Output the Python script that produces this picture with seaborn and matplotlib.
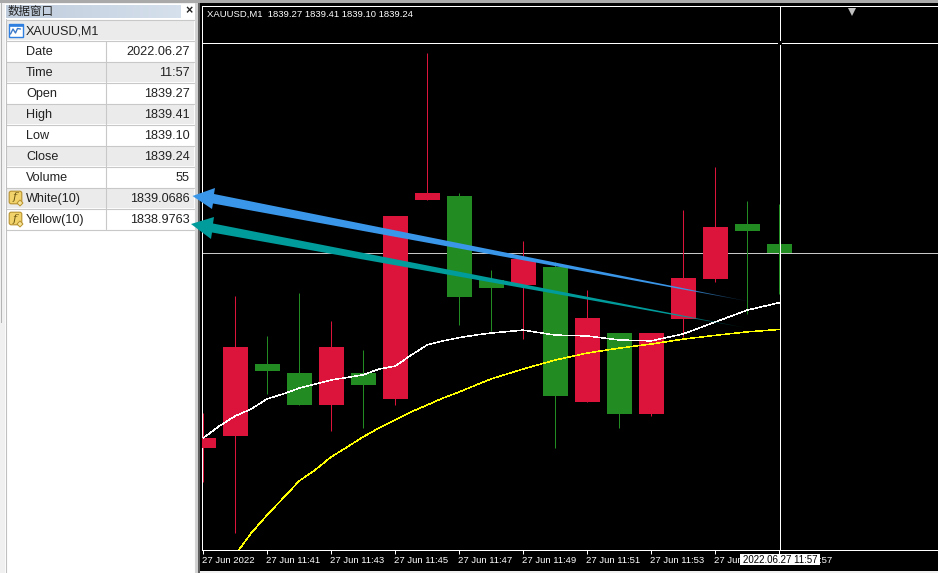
import numpy as np
import pandas as pd
import matplotlib
matplotlib.use("Agg")
import matplotlib.pyplot as plt
from matplotlib.patches import Rectangle, Polygon, FancyBboxPatch
from matplotlib.transforms import ScaledTranslation
import seaborn as sns

# ---------- data ----------
bar_labels = ["27 Jun 2022", "27 Jun 11:41", "27 Jun 11:43", "27 Jun 11:45", "27 Jun 11:47",
              "27 Jun 11:49", "27 Jun 11:51", "27 Jun 11:53", "27 Jun 11:55", "27 Jun 11:57"]
open_p = [1838.568, 1838.609, 1838.857, 1838.826, 1838.716, 1838.826, 1838.737, 1839.423, 1839.437, 1839.147,
          1839.130, 1839.192, 1838.726, 1838.964, 1838.685, 1839.012, 1839.150, 1839.340, 1839.27]
high_p = [1838.688, 1839.092, 1838.954, 1839.102, 1839.006, 1838.906, 1839.368, 1839.930, 1839.447, 1839.181,
          1839.281, 1839.209, 1839.112, 1838.964, 1838.964, 1839.388, 1839.537, 1839.419, 1839.41]
low_p = [1838.450, 1838.274, 1838.754, 1838.716, 1838.626, 1838.637, 1838.716, 1839.423, 1838.992, 1838.971,
         1838.943, 1838.568, 1838.726, 1838.637, 1838.678, 1838.950, 1839.140, 1839.030, 1839.10]
close_p = [1838.602, 1838.916, 1838.833, 1838.716, 1838.916, 1838.785, 1839.368, 1839.447, 1839.088, 1839.119,
           1839.219, 1838.747, 1839.016, 1838.685, 1838.964, 1839.154, 1839.330, 1839.316, 1839.24]
white_bar = [0, 0.5, 1, 1.5, 2, 2.5, 3, 3.5, 4, 5, 5.5, 6, 6.5, 7, 7.5, 8, 8.5, 9,
             10, 11, 12, 13, 14, 15, 16, 17, 18]
white_ma = [1838.602, 1838.643, 1838.678, 1838.702, 1838.737, 1838.754, 1838.774, 1838.788, 1838.802,
            1838.820, 1838.840, 1838.850, 1838.888, 1838.923, 1838.937, 1838.948, 1838.957, 1838.964,
            1838.974, 1838.957, 1838.954, 1838.940, 1838.937, 1838.961, 1839.002, 1839.043, 1839.0686]
yellow_bar = [1, 1.5, 2, 2.5, 3, 3.5, 4, 4.5, 5, 5.5, 6, 6.5, 7, 7.5, 8, 9,
              10, 11, 12, 13, 14, 15, 16, 17, 18]
yellow_ma = [1838.199, 1838.274, 1838.337, 1838.395, 1838.454, 1838.492, 1838.537, 1838.571, 1838.606,
             1838.637, 1838.664, 1838.692, 1838.716, 1838.740, 1838.761, 1838.806,
             1838.840, 1838.871, 1838.895, 1838.912, 1838.926, 1838.943, 1838.956, 1838.968, 1838.9763]
cross_price = 1839.964
cross_bar = 18

header_text = "XAUUSD,M1  1839.27 1839.41 1839.10 1839.24"
cross_label = "2022.06.27 11:57"
window_title = "数据窗口"
window_symbol = "XAUUSD,M1"
row_names = ["Date", "Time", "Open", "High", "Low", "Close", "Volume", "White(10)", "Yellow(10)"]
row_values = ["2022.06.27", "11:57", "1839.27", "1839.41", "1839.10", "1839.24", "55", "1839.0686", "1838.9763"]

# ---------- figure ----------
W, H = 938, 573
sns.set_theme(style="dark")
plt.rcParams["font.family"] = ["Liberation Sans", "Noto Sans CJK SC", "DejaVu Sans"]
fig = plt.figure(figsize=(W / 100, H / 100), dpi=100, facecolor="#f0f0f0")

# pixel-coordinate layer for the data window and chart frame
bg = fig.add_axes([0, 0, 1, 1], zorder=0)
bg.set_xlim(0, W); bg.set_ylim(H, 0); bg.axis("off")
bg.add_patch(Rectangle((0, 0), W, 3, color="#a9a9a9", lw=0))
bg.add_patch(Rectangle((1, 3), 1, 320, color="#b4b4b4", lw=0))
bg.add_patch(Rectangle((195, 3), 4, H, color="#d0d0d0", lw=0))
bg.add_patch(Rectangle((198, 3), 2, H, color="#606060", lw=0))
bg.add_patch(Rectangle((200, 3), W - 200, 568, color="black", lw=0))
bg.add_patch(Rectangle((200, 571), W - 200, 2, color="#f0f0f0", lw=0))
bg.add_patch(Rectangle((5, 4), 190, H, color="white", lw=0))
# title bar with a gradient
grad = np.linspace(0, 1, 64).reshape(1, -1, 1)
c0, c1 = np.array([0.75, 0.80, 0.86]), np.array([0.84, 0.88, 0.93])
bg.imshow(c0 + (c1 - c0) * grad, extent=(6, 181, 18, 5), aspect="auto", zorder=1)
bg.set_xlim(0, W); bg.set_ylim(H, 0)
bg.text(8, 11.5, window_title, fontsize=8.3, color="#222222", va="center", family="Noto Sans CJK SC", zorder=3)
bg.text(189, 11.5, "×", fontsize=9, color="#222222", va="center", ha="center", fontweight="bold", zorder=3)

row_h = 21
FS = 9.1
bg.add_patch(Rectangle((6, 20), 188, 20, color="#ebebeb", lw=0))
bg.text(26, 31, window_symbol, fontsize=FS, color="#222222", va="center", zorder=3)
bg.add_patch(Rectangle((8.5, 23.5), 14, 13, fc="white", ec="#2f7fe0", lw=1, zorder=3))
bg.add_patch(Rectangle((8.5, 23.5), 14, 2.5, fc="#2f7fe0", ec="#2f7fe0", lw=0.5, zorder=3))
bg.plot([10.5, 13, 15.5, 17.5, 20.5], [34, 29, 33, 28.5, 29], color="#3c78c8", lw=1, zorder=4)
for i, (name, val) in enumerate(zip(row_names, row_values)):
    y0 = 41 + i * row_h
    shade = i % 2 == 1
    if shade:
        bg.add_patch(Rectangle((6, y0), 188, row_h - 1, color="#ebebeb", lw=0))
    bg.plot([6, 194], [y0 + row_h - 0.5] * 2, color="#c8c8c8", lw=0.8, zorder=2)
    bg.text(26, y0 + 11, name, fontsize=FS, color="#222222", va="center", zorder=3)
    bg.text(190, y0 + 11, val, fontsize=FS, color="#222222", va="center", ha="right", zorder=3)
    if i >= 7:
        bg.add_patch(FancyBboxPatch((10, y0 + 4), 11, 11, boxstyle="round,pad=0.8,rounding_size=2",
                                    fc="#f2d36b", ec="#b8912c", lw=0.8, zorder=3))
        bg.text(15, y0 + 9.5, "f", fontsize=8, style="italic", color="#6b5510", va="center", ha="center",
                family="DejaVu Serif", zorder=4)
        bg.add_patch(Polygon([(20, y0 + 12), (23, y0 + 15), (20, y0 + 18), (17, y0 + 15)],
                             fc="#f6e59a", ec="#b8912c", lw=0.7, zorder=4))
bg.plot([105.5, 105.5], [41, 229], color="#c8c8c8", lw=0.8, zorder=2)
bg.plot([5.5, 5.5], [19, H], color="#c0c0c0", lw=0.8, zorder=2)
bg.plot([6, 194], [19.5, 19.5], color="#c8c8c8", lw=0.8, zorder=2)
bg.plot([6, 194], [40.5, 40.5], color="#c8c8c8", lw=0.8, zorder=2)
bg.plot([194.5, 194.5], [19, H], color="#d4d4d4", lw=0.8, zorder=2)

# ---------- price chart ----------
PX_PER_BAR = 32.0
PX_PER_UNIT = 290.0
L, R, T, B = 202.0, 938.0, 6.0, 550.0
ax = fig.add_axes([L / W, (H - B) / H, (R - L) / W, (B - T) / H], zorder=1)
ax.set_facecolor("none")
x0_px = 203.2
ref_y, ref_p = 253.0, close_p[-1]
ax.set_xlim((L - x0_px) / PX_PER_BAR, (R - x0_px) / PX_PER_BAR)
ax.set_ylim(ref_p + (ref_y - B) / PX_PER_UNIT, ref_p + (ref_y - T) / PX_PER_UNIT)

bars = pd.DataFrame({"bar": np.arange(len(open_p)), "open": open_p, "high": high_p, "low": low_p, "close": close_p})
bars["color"] = np.where(bars["close"] >= bars["open"], "#dc143c", "#228b22")
LW = 0.72
ax.axhline(close_p[-1], color="#c8c8c8", lw=LW, zorder=1)
ax.vlines(bars["bar"], bars["low"], bars["high"], colors=bars["color"], lw=LW, zorder=2)
ax.bar(bars["bar"], (bars["close"] - bars["open"]).abs(), bottom=bars[["open", "close"]].min(axis=1),
       width=25 / PX_PER_BAR, color=bars["color"], lw=0, zorder=3, antialiased=False)

sns.lineplot(x=white_bar, y=white_ma, ax=ax, color="white", lw=0.36, zorder=4, errorbar=None, antialiased=False)
sns.lineplot(x=yellow_bar, y=yellow_ma, ax=ax, color="#ffff00", lw=0.36, zorder=4, errorbar=None, antialiased=False)

# crosshair
cross_x = cross_bar + 1.1 / PX_PER_BAR
ax.axvline(cross_x, color="white", lw=LW, zorder=5)
ax.axhline(cross_price, color="white", lw=LW, zorder=5)
ax.plot([cross_x], [cross_price], marker="s", ms=2.2, color="black", mew=0, zorder=6)
ax.plot([20.27], [1840.07], marker="v", ms=6, color="#c0c0c0", mew=0, zorder=6, clip_on=False)

for s in ["left", "bottom", "top"]:
    ax.spines[s].set_visible(True)
    ax.spines[s].set_color("white")
    ax.spines[s].set_linewidth(LW)
ax.spines["right"].set_visible(False)
ax.grid(False)
ax.set_yticks([])
ax.set_xticks(np.arange(0, 20, 2))
ax.set_xticklabels(bar_labels, fontsize=6.8, color="white", ha="left")
ax.tick_params(axis="x", direction="out", length=3, width=LW, color="white", pad=1.5, bottom=True)
shift = ScaledTranslation(-1 / 100, 0, fig.dpi_scale_trans)
for lab in ax.get_xticklabels():
    lab.set_transform(lab.get_transform() + shift)
ax.set_xlabel(""); ax.set_ylabel("")
ax.text(207 / W, (H - 14.5) / H, header_text, transform=fig.transFigure, fontsize=6.8, color="white",
        va="center", zorder=7)

# ---------- hand-drawn callout arrows, crosshair time box ----------
ov = fig.add_axes([0, 0, 1, 1], zorder=2)
ov.set_facecolor("none"); ov.axis("off")
ov.add_patch(Rectangle((740, 554), 80, 11, fc="white", ec="none", zorder=4))
ov.text(780, 559.8, cross_label, fontsize=7.0, color="black", ha="center", va="center", zorder=5)


def arrow(tip, barb_top, barb_bot, neck_top, neck_bot, tail, rgb):
    poly = Polygon([tip, barb_top, neck_top, tail, neck_bot, barb_bot], closed=True, transform=ov.transData,
                   fc="none", ec="none")
    ov.add_patch(poly)
    xs = np.linspace(tip[0] - 1, tail[0] + 1, 400)
    alpha = np.clip((tail[0] - xs) / 75.0, 0, 1)
    rgba = np.ones((1, 400, 4))
    rgba[..., :3] = rgb
    rgba[..., 3] = alpha
    im = ov.imshow(rgba, extent=(xs[0], xs[-1], tail[1] + 15, barb_top[1] - 5), aspect="auto", zorder=3,
                   interpolation="bilinear")
    im.set_clip_path(poly)


arrow((192.5, 196), (215, 188), (212, 209), (214, 194), (213, 203.5), (757, 303), (0.23, 0.59, 0.91))
arrow((191, 224), (214, 217), (211, 239), (213, 223.5), (212, 232.5), (752, 329), (0.0, 0.61, 0.61))
ov.set_xlim(0, W); ov.set_ylim(H, 0)

fig.savefig("out.png", dpi=100, facecolor=fig.get_facecolor())
